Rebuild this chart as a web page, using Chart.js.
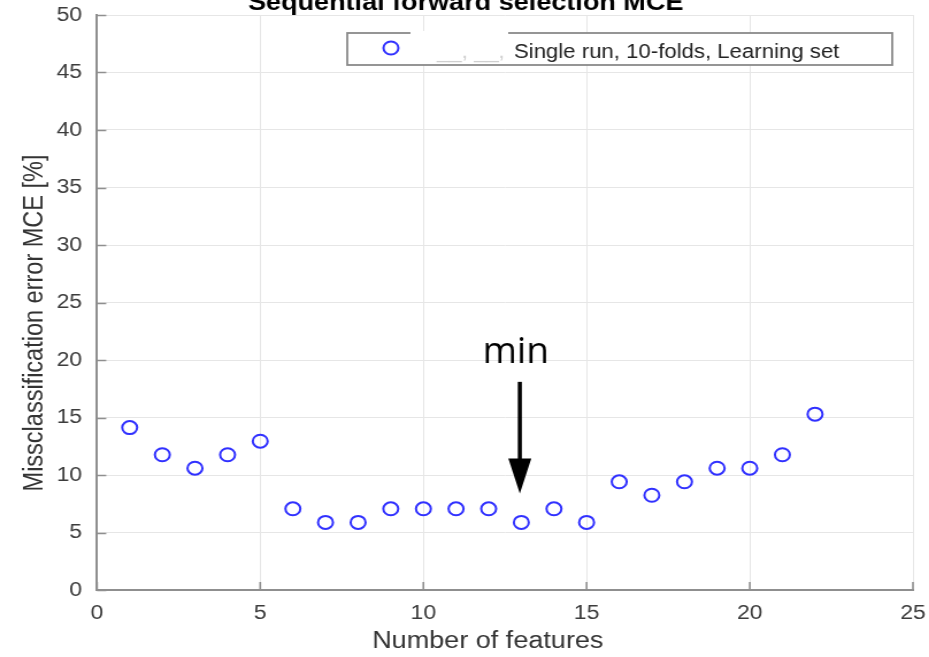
<!DOCTYPE html>
<html>
<head>
<meta charset="utf-8">
<title>Sequential forward selection MCE</title>
<script src="https://cdn.jsdelivr.net/npm/chart.js@4/dist/chart.umd.min.js"></script>
<style>
  html, body { margin: 0; padding: 0; background: #fff; overflow: hidden; }
  #wrap { width: 808px; height: 657px; transform: scaleX(1.1498); transform-origin: 0 0; }
</style>
</head>
<body>
<div id="wrap"><canvas id="chart" width="808" height="657"></canvas></div>
<script>
// Number of selected features and the cross-validated misclassification error (%)
const featureCounts = [1, 2, 3, 4, 5, 6, 7, 8, 9, 10, 11, 12, 13, 14, 15, 16, 17, 18, 19, 20, 21, 22];
const mceValues = [14.12, 11.76, 10.59, 11.76, 12.94, 7.06, 5.88, 5.88, 7.06, 7.06, 7.06,
                   7.06, 5.88, 7.06, 5.88, 9.41, 8.24, 9.41, 10.59, 10.59, 11.76, 15.29];
const xTickValues = [0, 5, 10, 15, 20, 25];
const yTickValues = [0, 5, 10, 15, 20, 25, 30, 35, 40, 45, 50];

const chartTitle = 'Sequential forward selection MCE';
const xTitle = 'Number of features';
const yTitle = 'Missclassification error MCE [%]';
const seriesPrefix = '__, __,';
const seriesLabel = 'Single run, 10-folds, Learning set';
const minFeatureCount = 13;
const minLabel = 'min';

// the figure is displayed horizontally widened by this factor
const STRETCH = 1.1498;
const FONT = "'Liberation Sans', Arial, Helvetica, sans-serif";
const AXIS_GRAY = '#8f8f8f';
const MARKER_BLUE = 'rgb(48, 48, 255)';

const points = featureCounts.map((n, i) => ({ x: n, y: mceValues[i] }));

// inward tick marks on the left and bottom axes
const innerTicks = {
  id: 'innerTicks',
  afterDraw(chart) {
    const { ctx, chartArea: a, scales: { x, y } } = chart;
    ctx.save();
    ctx.strokeStyle = AXIS_GRAY;
    ctx.lineWidth = 1.6;
    ctx.beginPath();
    yTickValues.forEach(v => {
      const py = Math.round(y.getPixelForValue(v)) + 0.5;
      ctx.moveTo(a.left, py); ctx.lineTo(a.left + 8, py);
    });
    xTickValues.forEach(v => {
      const px = x.getPixelForValue(v);
      ctx.moveTo(px, a.bottom); ctx.lineTo(px, a.bottom - 8);
    });
    ctx.stroke();
    ctx.restore();
  }
};

// chart title, axis titles and the legend box
const frameText = {
  id: 'frameText',
  afterDraw(chart) {
    const { ctx, chartArea: a } = chart;
    ctx.save();
    ctx.fillStyle = '#000';
    ctx.font = 'bold 23.5px ' + FONT;
    ctx.textAlign = 'center';
    ctx.textBaseline = 'alphabetic';
    ctx.fillText(chartTitle, 405, 10);

    ctx.fillStyle = '#333';
    ctx.font = '23.5px ' + FONT;
    ctx.fillText(xTitle, (a.left + a.right) / 2 - 15, 648);

    ctx.save();
    ctx.translate(37, 323);
    ctx.rotate(-Math.PI / 2);
    ctx.fillText(yTitle, 0, 0);
    ctx.restore();

    // legend
    const lx = 302, ly = 33, lw = 474, lh = 32;
    ctx.fillStyle = '#fff';
    ctx.fillRect(lx, ly, lw, lh);
    ctx.strokeStyle = '#8a8a8a';
    ctx.lineWidth = 1.8;
    ctx.strokeRect(lx, ly, lw, lh);
    ctx.fillStyle = '#fff';
    ctx.fillRect(357, 31, 85, 6);

    ctx.strokeStyle = MARKER_BLUE;
    ctx.lineWidth = 2;
    ctx.beginPath();
    ctx.arc(340, 48, 6.5, 0, Math.PI * 2);
    ctx.stroke();

    ctx.textAlign = 'left';
    ctx.font = '19.3px ' + FONT;
    ctx.fillStyle = '#cfcfcf';
    ctx.fillText(seriesPrefix, 380, 58);
    ctx.fillStyle = '#222';
    ctx.fillText(seriesLabel, 447, 58);
    ctx.restore();
  }
};

// arrow marking the smallest error
const minArrow = {
  id: 'minArrow',
  afterDatasetsDraw(chart) {
    const { ctx, scales: { x, y } } = chart;
    const ax = x.getPixelForValue(minFeatureCount) * STRETCH - 1.5;
    const tipY = y.getPixelForValue(8.4);
    const tailY = y.getPixelForValue(18.1);
    const headLen = 35, headHalf = 11.5;
    ctx.save();
    ctx.scale(1 / STRETCH, 1);
    ctx.fillStyle = '#000';
    ctx.fillRect(ax - 2, tailY, 4, tipY - headLen - tailY + 1);
    ctx.beginPath();
    ctx.moveTo(ax - headHalf, tipY - headLen);
    ctx.lineTo(ax + headHalf, tipY - headLen);
    ctx.lineTo(ax, tipY);
    ctx.closePath();
    ctx.fill();
    ctx.font = "37px 'Open Sans', 'Noto Sans', sans-serif";
    ctx.textAlign = 'center';
    ctx.textBaseline = 'alphabetic';
    ctx.fillText(minLabel, ax - 4, y.getPixelForValue(19.7));
    ctx.restore();
  }
};

new Chart(document.getElementById('chart'), {
  type: 'scatter',
  data: {
    datasets: [{
      label: seriesLabel,
      data: points,
      showLine: false,
      pointStyle: 'circle',
      pointRadius: 6.5,
      pointHoverRadius: 6.5,
      pointBorderWidth: 2,
      pointBorderColor: MARKER_BLUE,
      pointBackgroundColor: 'rgba(0,0,0,0)'
    }]
  },
  options: {
    responsive: false,
    animation: false,
    devicePixelRatio: 1,
    layout: { padding: { top: 15, right: 14, left: 0, bottom: 0 } },
    plugins: { legend: { display: false }, tooltip: { enabled: false }, title: { display: false } },
    scales: {
      x: {
        type: 'linear',
        min: 0, max: 25,
        afterFit(scale) {
          scale.height = 67;
          scale.paddingLeft = 0;
          scale.paddingRight = 0;
        },
        afterBuildTicks(scale) { scale.ticks = xTickValues.map(v => ({ value: v })); },
        ticks: { color: '#3c3c3c', font: { family: FONT, size: 20 }, padding: 11, maxRotation: 0 },
        grid: { color: '#e6e6e6', lineWidth: 1, drawTicks: false },
        border: { color: AXIS_GRAY, width: 2 }
      },
      y: {
        type: 'linear',
        min: 0, max: 50,
        afterFit(scale) {
          scale.width = 84.4;
          scale.paddingTop = 0;
          scale.paddingBottom = 0;
        },
        afterBuildTicks(scale) { scale.ticks = yTickValues.map(v => ({ value: v })); },
        ticks: { color: '#3c3c3c', font: { family: FONT, size: 20 }, padding: 13 },
        grid: { color: '#e6e6e6', lineWidth: 1, drawTicks: false },
        border: { color: AXIS_GRAY, width: 2 }
      }
    }
  },
  plugins: [innerTicks, minArrow, frameText]
});
</script>
</body>
</html>
